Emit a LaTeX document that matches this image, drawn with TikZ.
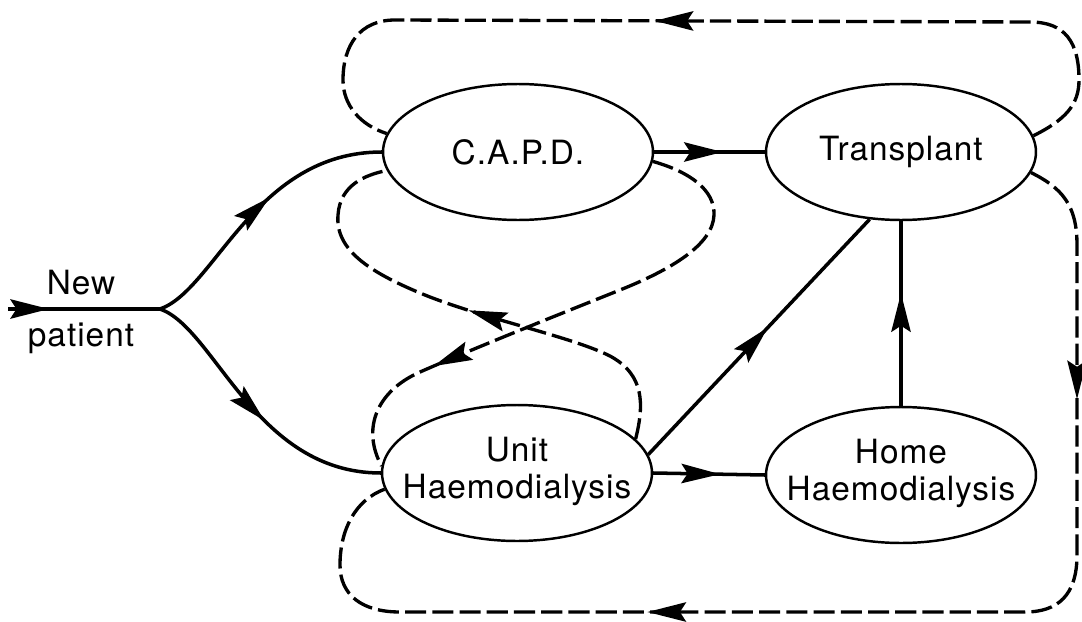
\documentclass[tikz,border=0pt]{standalone}
\usepackage{fontspec}
\setmainfont[LetterSpace=3]{TeX Gyre Heros}
\usetikzlibrary{shapes.geometric,arrows.meta,decorations.markings}

\begin{document}
\begin{tikzpicture}[x=0.02cm,y=-0.02cm,
  txt/.style={font=\fontsize{19}{21}\selectfont},
  state/.style={ellipse,draw,line width=1.4pt,minimum width=5.4cm,
    minimum height=2.72cm,inner sep=0pt,txt},
  flow/.style={line width=2pt},
  alt/.style={line width=1.9pt,dash pattern=on 12pt off 3.5pt},
  tipat/.style={postaction={decorate,decoration={markings,
    mark=at position #1 with {\pgfsetdash{}{0pt}%
      \arrow{Stealth[length=22pt,width=11pt,inset=3.5pt]}}}}}
]
\useasboundingbox (0,0) rectangle (1082,622);

% treatment modes
\node[state] (C) at (518,152) {\makebox[0pt]{C.A.P.D.}};
\node[state] (T) at (901,152) {\makebox[0pt]{Transplant}};
\node[state] (U) at (517,473) {\makebox[0pt]{\begin{tabular}{@{}c@{}}Unit\\Haemodialysis\end{tabular}}};
\node[state] (H) at (901,475) {\makebox[0pt]{\begin{tabular}{@{}c@{}}Home\\Haemodialysis\end{tabular}}};

% entry
\node[txt] (np) at (81,313) {\begin{tabular}{@{}c@{}}New\\[9pt]patient\end{tabular}};
\coordinate (in) at (8,309);
\coordinate (fork) at (160,309);

% primary transfers
\draw[flow,tipat=0.27] (in) -- (fork);
\draw[flow,tipat=0.56] (fork) .. controls (215,290) and (255,152) .. (C.west);
\draw[flow,tipat=0.54] (fork) .. controls (215,328) and (255,473) .. (U.west);
\draw[flow,tipat=0.62] (C.east) -- (T.west);
\draw[flow,tipat=0.6] (U.east) -- (H.west);
\draw[flow,tipat=0.54] (U.8) -- (T.245);
\draw[flow,tipat=0.61] (H.north) -- (T.south);

% failures and returns
\draw[alt,tipat=0.56] (T.7) .. controls (1065,120) and (1079,105) .. (1079,80)
  .. controls (1079,42) and (1065,22) .. (1030,22) -- (395,20)
  .. controls (360,20) and (343,45) .. (343,80)
  .. controls (343,105) and (360,125) .. (C.172);
\draw[alt,tipat=0.19,tipat=0.67] (T.-9) .. controls (1062,188) and (1077,205) .. (1077,245)
  -- (1077,555) .. controls (1077,595) and (1058,612) .. (1025,612) -- (400,612)
  .. controls (362,612) and (340,595) .. (340,565)
  .. controls (340,530) and (355,500) .. (U.187);
\draw[alt,tipat=0.5] (U.16) .. controls (644,405) and (645,375) .. (610,356)
  .. controls (570,336) and (480,318) .. (420,293)
  .. controls (370,272) and (335,250) .. (338,215)
  .. controls (340,185) and (365,175) .. (C.188);
\draw[alt,tipat=0.76] (C.-4) .. controls (690,172) and (715,190) .. (714,215)
  .. controls (713,245) and (670,270) .. (620,290)
  .. controls (560,314) and (470,350) .. (420,372)
  .. controls (375,392) and (362,430) .. (U.177);
\end{tikzpicture}
\end{document}
